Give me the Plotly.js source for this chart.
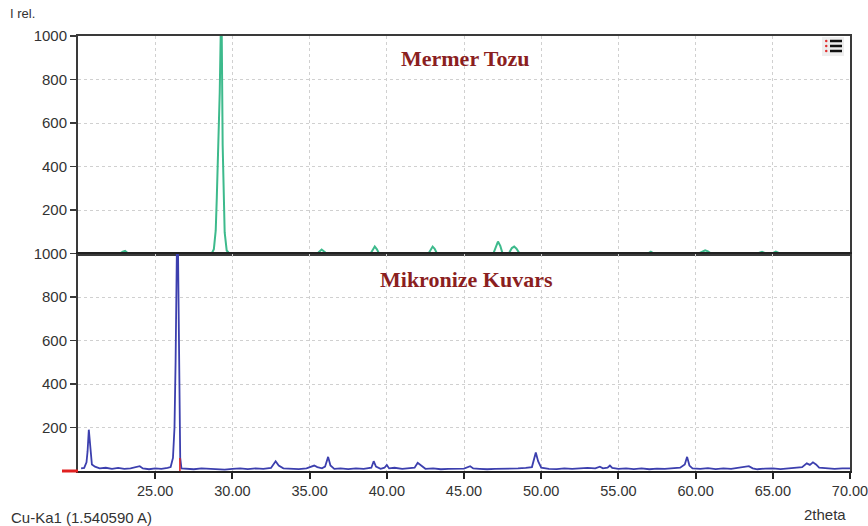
<!DOCTYPE html>
<html>
<head>
<meta charset="utf-8">
<script src="https://cdn.plot.ly/plotly-3.0.1.min.js"></script>
<style>html,body{margin:0;padding:0;background:#fff;}#chart{width:868px;height:526px;}</style>
</head>
<body>
<div id="chart"></div>
<script>
// Mermer Tozu (top panel)
const mermerX = [20.0, 22.7, 22.9, 23.05, 23.25, 28.66, 28.8, 28.92, 28.99, 29.05, 29.11, 29.18, 29.24, 29.31, 29.37, 29.44, 29.5, 29.63, 29.8,
  35.5, 35.65, 35.78, 35.92, 36.1, 38.95, 39.1, 39.22, 39.35, 39.5, 42.7, 42.85, 42.97, 43.1, 43.25,
  46.9, 47.05, 47.2, 47.35, 47.5, 47.9, 48.1, 48.25, 48.4, 48.6, 56.9, 57.1, 57.3, 60.2, 60.45, 60.62, 60.8, 61.0,
  64.0, 64.3, 64.55, 64.95, 65.2, 65.45, 70.0];
const mermerY = [0, 0, 8, 12, 0, 0, 20, 106, 258, 380, 511, 742, 1000, 1000, 497, 244, 97, 14, 0,
  0, 10, 18, 10, 0, 0, 20, 32, 20, 0, 0, 22, 32, 22, 0,
  0, 30, 55, 35, 0, 0, 25, 32, 22, 0, 0, 8, 0, 0, 10, 15, 10, 0,
  0, 8, 0, 0, 9, 0, 0];

// Mikronize Kuvars (bottom panel)
const kuvarsX = [20.2, 20.4, 20.55, 20.62, 20.7, 20.78, 20.9, 21.1, 21.4, 21.8, 22.2, 22.6, 23.0, 23.4, 23.8, 24.0, 24.2, 24.6, 25.0, 25.4, 25.8,
  26.0, 26.15, 26.25, 26.32, 26.4, 26.48, 26.55, 26.62, 26.7, 27.0, 27.5, 28.0, 28.5, 29.0, 29.5, 30.0, 30.5, 31.0, 31.5, 32.0, 32.5,
  32.8, 33.0, 33.3, 33.8, 34.3, 34.8, 35.1, 35.3, 35.5, 35.8, 36.0, 36.2, 36.35, 36.6, 37.0, 37.5, 38.0, 38.5, 39.0, 39.15, 39.3, 39.6,
  39.85, 40.0, 40.15, 40.5, 41.0, 41.5, 41.8, 42.0, 42.2, 42.5, 43.0, 43.5, 44.0, 44.5, 45.0, 45.4, 45.6, 46.0, 46.5, 47.0, 47.5, 48.0,
  48.5, 49.0, 49.4, 49.65, 49.8, 50.0, 50.5, 51.0, 51.5, 52.0, 52.5, 53.0, 53.5, 53.8, 54.0, 54.3, 54.45, 54.6, 55.0, 55.5, 56.0, 56.5,
  57.0, 57.5, 58.0, 58.5, 59.0, 59.3, 59.45, 59.6, 59.8, 60.3, 60.8, 61.3, 61.8, 62.3, 62.8, 63.2, 63.45, 63.7, 64.0, 64.5, 65.0, 65.5,
  66.0, 66.5, 66.9, 67.2, 67.4, 67.6, 67.8, 68.0, 68.5, 69.0, 69.5, 70.0];
const kuvarsY = [12, 14, 40, 90, 190, 110, 30, 20, 12, 15, 10, 14, 10, 12, 18, 22, 12, 8, 12, 10, 14,
  18, 60, 200, 500, 1000, 1000, 300, 60, 12, 10, 8, 12, 10, 8, 6, 10, 12, 9, 12, 10, 14,
  45, 25, 12, 10, 9, 12, 22, 25, 18, 12, 20, 65, 25, 10, 12, 9, 12, 10, 15, 45, 20, 10,
  15, 28, 12, 15, 10, 12, 15, 38, 25, 10, 12, 8, 10, 12, 11, 22, 12, 10, 8, 10, 10, 9,
  12, 14, 18, 85, 45, 15, 10, 9, 12, 10, 12, 14, 12, 20, 12, 15, 25, 14, 10, 12, 9, 12,
  8, 11, 10, 13, 15, 30, 65, 25, 12, 10, 13, 9, 12, 10, 14, 20, 22, 12, 8, 11, 12, 9,
  12, 15, 18, 35, 28, 40, 30, 15, 12, 10, 12, 12];

const xTicks = [25, 30, 35, 40, 45, 50, 55, 60, 65, 70];
const xTickText = ["25.00", "30.00", "35.00", "40.00", "45.00", "50.00", "55.00", "60.00", "65.00", "70.00"];
const yTicks = [200, 400, 600, 800, 1000];
const yTickText = ["200", "400", "600", "800", "1000"];

const markerX = 26.6;
const markerY = [0, 60];

const L = 78, R = 850, T = 36, B = 471;
const W = R - L, H = B - T;
const px = v => (v - L) / W;
const py = v => (B - v) / H;

const gridStyle = {showgrid: true, gridcolor: '#d0d0d0', griddash: 'dot', gridwidth: 1};
const lineStyle = {showline: true, linecolor: '#3a3a3a', linewidth: 2, mirror: true, zeroline: false};

const traces = [
  {x: mermerX, y: mermerY, type: 'scatter', mode: 'lines', line: {color: '#3dba8c', width: 2}, xaxis: 'x', yaxis: 'y', hoverinfo: 'skip'},
  {x: kuvarsX, y: kuvarsY, type: 'scatter', mode: 'lines', line: {color: '#3c3fae', width: 1.8}, xaxis: 'x2', yaxis: 'y2', hoverinfo: 'skip'},
  {x: [markerX, markerX], y: markerY, type: 'scatter', mode: 'lines', line: {color: '#e02020', width: 1.5}, xaxis: 'x2', yaxis: 'y2', hoverinfo: 'skip'}
];

const tickFont = {family: 'Arial, Liberation Sans, sans-serif', size: 15, color: '#333'};
const xTickFont = {family: 'Arial, Liberation Sans, sans-serif', size: 14.5, color: '#333'};
const lblFont = {family: 'Arial, Liberation Sans, sans-serif', size: 15, color: '#333'};
const titleFont = {family: 'Liberation Serif, Times New Roman, serif', size: 22, color: '#8b1f1f'};

const layout = {
  width: 868, height: 526,
  margin: {l: L, r: 868 - R, t: T, b: 526 - B},
  paper_bgcolor: '#fff', plot_bgcolor: '#fff',
  showlegend: false,
  xaxis: Object.assign({range: [20, 70], anchor: 'y', tickvals: xTicks, showticklabels: false, ticks: ''}, gridStyle, lineStyle),
  yaxis: Object.assign({range: [0, 1000], domain: [0.5, 1], anchor: 'x', tickvals: yTicks, ticktext: yTickText, ticks: 'outside', ticklen: 6, tickcolor: '#3a3a3a', tickwidth: 1.5, tickfont: tickFont}, gridStyle, lineStyle),
  xaxis2: Object.assign({range: [20, 70], anchor: 'y2', matches: 'x', tickvals: xTicks, ticktext: xTickText, ticks: 'outside', ticklen: 6, tickcolor: '#222', tickwidth: 2, tickfont: xTickFont, ticklabeloverflow: 'allow'}, gridStyle, lineStyle, {linecolor: '#222'}),
  yaxis2: Object.assign({range: [0, 1000], domain: [0, 0.5], anchor: 'x2', tickvals: yTicks, ticktext: yTickText, ticks: 'outside', ticklen: 6, tickcolor: '#3a3a3a', tickwidth: 1.5, tickfont: tickFont}, gridStyle, lineStyle),
  shapes: [
    {type: 'line', xref: 'paper', yref: 'paper', x0: px(62), x1: 0, y0: 0, y1: 0, line: {color: '#e02020', width: 3}},
    {type: 'rect', xref: 'paper', yref: 'paper', x0: px(822), x1: px(844), y0: py(56), y1: py(37), fillcolor: '#eeeeee', line: {width: 0}},
    {type: 'line', xref: 'paper', yref: 'paper', x0: px(830), x1: px(842), y0: py(41), y1: py(41), line: {color: '#111', width: 2.5}},
    {type: 'line', xref: 'paper', yref: 'paper', x0: px(830), x1: px(842), y0: py(46), y1: py(46), line: {color: '#111', width: 2.5}},
    {type: 'line', xref: 'paper', yref: 'paper', x0: px(830), x1: px(842), y0: py(51), y1: py(51), line: {color: '#111', width: 2.5}},
    {type: 'circle', xref: 'paper', yref: 'paper', x0: px(825), x1: px(827.5), y0: py(42.2), y1: py(39.8), fillcolor: '#e03030', line: {width: 0}},
    {type: 'circle', xref: 'paper', yref: 'paper', x0: px(825), x1: px(827.5), y0: py(47.2), y1: py(44.8), fillcolor: '#e03030', line: {width: 0}},
    {type: 'circle', xref: 'paper', yref: 'paper', x0: px(825), x1: px(827.5), y0: py(52.2), y1: py(49.8), fillcolor: '#e03030', line: {width: 0}}
  ],
  annotations: [
    {text: '<b>Mermer Tozu</b>', xref: 'paper', yref: 'paper', x: px(465), y: py(58), xanchor: 'center', yanchor: 'middle', showarrow: false, font: titleFont},
    {text: '<b>Mikronize Kuvars</b>', xref: 'paper', yref: 'paper', x: px(466), y: py(279), xanchor: 'center', yanchor: 'middle', showarrow: false, font: titleFont},
    {text: 'I rel.', xref: 'paper', yref: 'paper', x: px(8), y: py(13), xanchor: 'left', yanchor: 'middle', showarrow: false,
     font: {family: 'Arial, Liberation Sans, sans-serif', size: 13, color: '#333'}},
    {text: 'Cu-Ka1 (1.540590 A)', xref: 'paper', yref: 'paper', x: px(9), y: py(517), xanchor: 'left', yanchor: 'middle', showarrow: false, font: lblFont},
    {text: '2theta', xref: 'paper', yref: 'paper', x: px(848), y: py(514), xanchor: 'right', yanchor: 'middle', showarrow: false, font: lblFont}
  ]
};

Plotly.newPlot('chart', traces, layout, {displayModeBar: false, staticPlot: true});
</script>
</body>
</html>
